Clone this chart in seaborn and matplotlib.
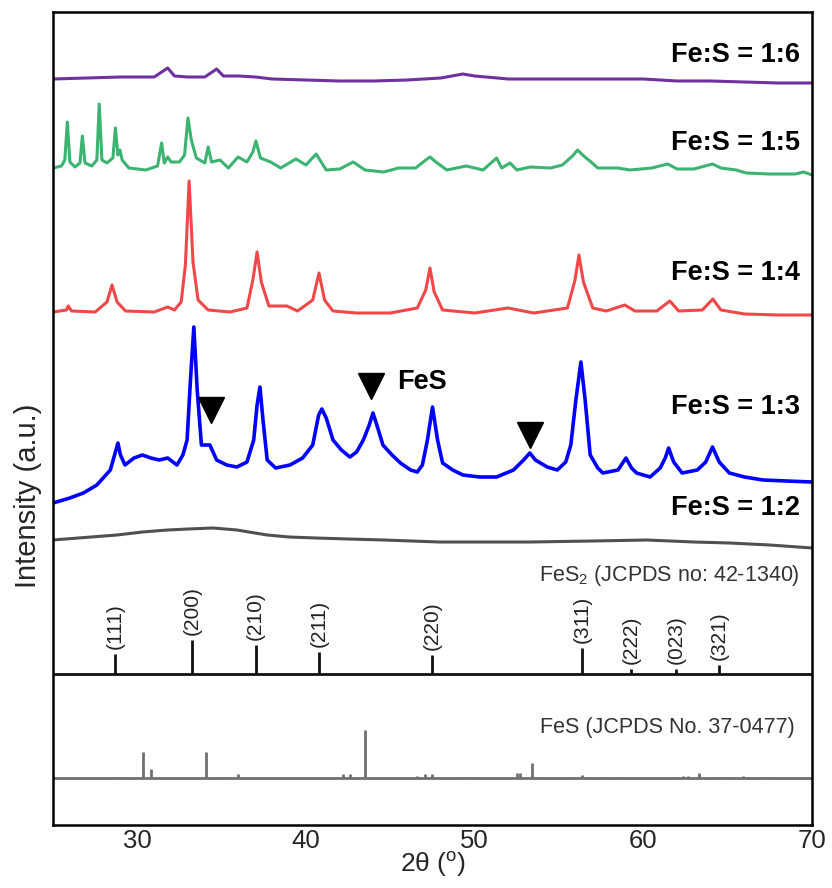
import numpy as np
import matplotlib
matplotlib.use("Agg")
import matplotlib.pyplot as plt
import seaborn as sns

# ---- data (intensity in a.u., relative to each trace's base) ----
x_16 = [25, 27, 29, 31, 31.8, 32.2, 33, 34, 34.7, 35.1, 36, 37, 38, 40, 42, 44, 46,
        48, 49.3, 50, 52, 55, 58, 60, 62, 64, 66, 68, 70]
i_16 = [1, 2, 3, 3, 12, 4, 3, 3, 11, 4, 4, 3, 1, 0, -1, -1, 0,
        2, 6, 4, 1, 1, 1, 1, -1, -1, -2, -3, -3]

x_15 = [25, 25.5, 25.7, 25.85, 26.0, 26.3, 26.6, 26.74, 26.9, 27.3, 27.6, 27.74, 27.9,
        28.2, 28.55, 28.7, 28.85, 28.97, 29.1, 29.5, 30.5, 31.2, 31.44, 31.6, 31.8, 32.0,
        32.5, 32.8, 33.0, 33.2, 33.5, 34.0, 34.2, 34.4, 34.9, 35.4, 35.97, 36.5, 36.85,
        37.03, 37.3, 37.9, 38.5, 39.4, 40.0, 40.6, 41.2, 42.0, 42.8, 43.5, 44.6, 45.5,
        46.5, 47.1, 47.35, 47.7, 48.35, 49.5, 50.5, 51.3, 51.6, 52.1, 52.5, 53.3, 54.5,
        55.2, 55.8, 56.1, 56.4, 56.9, 57.3, 58.5, 59.2, 60.5, 61.45, 62.0, 63.0, 64.1,
        64.6, 65.5, 66.1, 67.5, 69.0, 69.5, 70]
i_15 = [-1, 1, 7, 45, 5, 0, 4, 31, 4, 1, 7, 63, 7,
        4, 9, 39, 12, 17, 7, -1, -3, 1, 24, 4, 10, 5,
        5, 12, 49, 27, 9, 4, 20, 5, 7, -1, 10, 5, 15,
        26, 9, 5, -1, 8, 2, 13, -3, -2, 5, -3, -5, -1,
        -1, 7, 10, 5, -3, 1, -3, 9, -1, 4, -3, 0, -1,
        2, 11, 17, 12, 5, -1, -1, -3, -1, 3, -2, -2, 3,
        -1, -3, -6, -7, -7, -5, -8]

x_14 = [25, 25.8, 25.9, 26.1, 27.5, 28.2, 28.5, 28.8, 29.3, 31.0, 31.8, 32.2, 32.6,
        32.85, 33.07, 33.3, 33.6, 34.2, 35.5, 36.5, 36.85, 37.1, 37.35, 37.8, 38.87,
        39.5, 40.4, 40.77, 41.1, 41.6, 43.0, 45.0, 46.6, 47.1, 47.35, 47.6, 48.1, 50.0,
        51.97, 53.5, 55.5, 55.95, 56.18, 56.45, 57.0, 57.8, 58.9, 59.5, 60.8, 61.57,
        62.1, 63.5, 64.12, 64.6, 66.0, 68.0, 70.0]
i_14 = [0, 2, 6, 1, 0, 10, 27, 10, 1, 0, 5, 2, 10,
        47, 131, 50, 12, 2, 0, 4, 32, 60, 30, 6, 6,
        1, 12, 39, 12, 1, -1, -1, 4, 22, 44, 20, 2, -1,
        4, -1, 4, 32, 57, 30, 4, 1, 7, 1, 1, 11,
        1, 2, 13, 2, -2, -3, -3]

x_13 = [25, 26.0, 26.8, 27.6, 28.4, 28.7, 28.85, 29.0, 29.27, 29.8, 30.3, 30.8, 31.3,
        31.8, 32.35, 32.7, 32.95, 33.15, 33.35, 33.55, 33.8, 34.3, 34.7, 35.3, 35.9,
        36.5, 36.9, 37.1, 37.27, 37.45, 37.7, 38.2, 39.05, 39.8, 40.4, 40.75, 40.94,
        41.2, 41.6, 42.1, 42.6, 43.0, 43.4, 43.75, 43.97, 44.2, 44.56, 45.1, 45.6, 46.2,
        46.6, 46.9, 47.2, 47.5, 47.8, 48.1, 48.7, 49.3, 50.3, 51.3, 52.3, 52.9, 53.27,
        53.6, 54.3, 54.9, 55.4, 55.7, 56.0, 56.3, 56.55, 56.85, 57.3, 57.6, 58.5, 58.97,
        59.3, 59.6, 60.4, 61.0, 61.3, 61.5, 61.8, 62.3, 63.2, 63.7, 64.1, 64.5, 65.1,
        66.0, 67.1, 68.5, 70]
i_13 = [-23, -18, -13, -5, 10, 28, 37, 25, 15, 22, 25, 22, 20,
        22, 15, 25, 40, 100, 153, 90, 35, 35, 20, 15, 13,
        18, 40, 75, 93, 60, 20, 12, 15, 22, 35, 65, 71,
        62, 40, 30, 23, 28, 40, 55, 67, 55, 35, 25, 17, 10,
        8, 15, 40, 73, 40, 17, 10, 5, 3, 3, 10, 20, 27,
        20, 13, 10, 18, 35, 80, 118, 80, 25, 12, 7, 10, 22,
        12, 7, 3, 12, 22, 32, 18, 7, 10, 18, 33, 18, 7,
        3, 0, -1, -2]

x_12 = [25, 26.5, 28.8, 30.3, 31.8, 33.0, 34.5, 35.9, 37.7, 39.0, 40.6, 42.5, 44.6,
        47.9, 50.5, 53.3, 57.0, 60.2, 63.0, 65.1, 67.5, 70]
i_12 = [0, 2, 5, 8, 10, 11, 12, 10, 5, 3, 2, 1, 0,
        -2, -2, -2, -1, 0, -2, -3, -5, -8]

# reference patterns
fes2_pos = [28.68, 33.26, 37.01, 40.79, 47.47, 56.38, 59.26, 61.93, 64.48]
fes2_int = [20, 34, 29, 22, 19, 26, 5, 5, 9]
fes2_hkl = ["(111)", "(200)", "(210)", "(211)", "(220)", "(311)", "(222)", "(023)", "(321)"]

fes_pos = [28.97, 30.35, 30.79, 34.07, 35.08, 35.95, 42.19, 42.6, 43.5, 46.6, 47.05,
           47.47, 49.3, 49.9, 52.5, 52.7, 53.4, 54.0, 55.8, 56.35, 56.8, 57.8, 58.6,
           61.98, 62.35, 62.64, 63.3, 64.5, 65.1, 65.9, 66.2, 67.4]
fes_int = [1, 26, 9, 26, 1, 4, 4, 4, 48, 2, 4,
           4, 1, 1, 5, 5, 15, 1, 1, 3, 1, 1, 1,
           1, 2, 2, 5, 1, 1, 2, 1, 1]

fes_marks_x = [34.37, 43.85, 53.3]

# ---- layout (vertical offsets of each pattern) ----
traces = [
    (x_16, i_16, 745, "#7030a0", "Fe:S = 1:6", 770),
    (x_15, i_15, 658, "#3cb371", "Fe:S = 1:5", 682),
    (x_14, i_14, 513, "#f04848", "Fe:S = 1:4", 552),
    (x_13, i_13, 345, "#0000ff", "Fe:S = 1:3", 418),
    (x_12, i_12, 285, "#505050", "Fe:S = 1:2", 317),
]
base_fes2 = 151
base_fes = 47

sns.set_style("white")
plt.rcParams['font.family'] = ['Liberation Sans', 'DejaVu Sans']
plt.rcParams['mathtext.fontset'] = 'custom'
plt.rcParams['mathtext.rm'] = 'Liberation Sans'
plt.rcParams['mathtext.default'] = 'regular'

fig = plt.figure(figsize=(8.32, 8.88), dpi=100)
ax = fig.add_axes([53 / 832, 63 / 888, 759 / 832, 813 / 888])

for xs, ys, off, col, lab, ly in traces:
    lw = 2.6 if col == "#0000ff" else 2.2
    sns.lineplot(x=np.array(xs), y=np.array(ys) + off, color=col, lw=lw,
                 sort=False, estimator=None, ax=ax)
    ax.text(69.28, ly, lab, ha="right", va="center", fontsize=19.5,
            fontweight="bold", color="black")

# FeS markers
ax.plot(fes_marks_x, [415, 439, 390], linestyle="none", marker="v",
        markersize=19, color="black")
ax.text(45.4, 443, "FeS", ha="left", va="center", fontsize=19.5,
        fontweight="bold", color="black")

# FeS2 reference
ax.axhline(base_fes2, color="#111111", lw=2)
ax.vlines(fes2_pos, base_fes2, np.array(fes2_int) + base_fes2, color="#111111", lw=2)
for p, h, lab in zip(fes2_pos, fes2_int, fes2_hkl):
    ax.text(p, base_fes2 + h + 5, lab, rotation=90, ha="center", va="bottom",
            fontsize=15, color="#222222")
ax.text(69.28, 250, "FeS$_2$ (JCPDS no: 42-1340)", ha="right", va="center",
        fontsize=15.5, color="#333333")

# FeS reference
ax.axhline(base_fes, color="#707070", lw=2)
ax.vlines(fes_pos, base_fes, np.array(fes_int) + base_fes, color="#707070", lw=2)
ax.text(68.98, 98, "FeS (JCPDS No. 37-0477)", ha="right", va="center",
        fontsize=15.5, color="#333333")

ax.set_xlim(25, 70)
ax.set_ylim(0, 813)
ax.set_xticks([30, 40, 50, 60, 70])
ax.set_yticks([])
ax.tick_params(axis="x", direction="in", length=9, width=1.8, labelsize=18.5, pad=3)
for s in ax.spines.values():
    s.set_linewidth(1.8)
    s.set_color("black")
ax.set_xlabel("2θ ($^{o}$)", fontsize=19, labelpad=-2)
ax.set_ylabel("Intensity (a.u.)", fontsize=21)
ax.yaxis.set_label_coords(-0.015, 0.405)

fig.savefig("out.png", dpi=100)
